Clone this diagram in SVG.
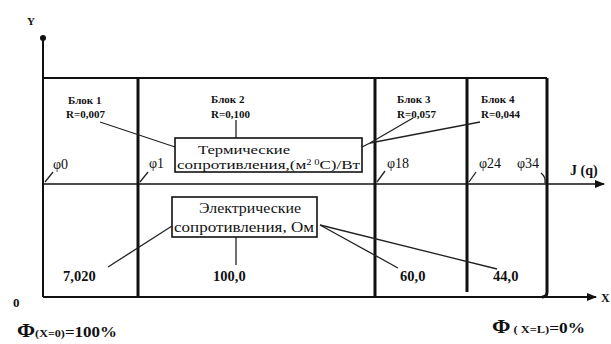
<svg xmlns="http://www.w3.org/2000/svg" width="611" height="344" viewBox="0 0 611 344">
<style>
text{font-family:"Liberation Serif","Times New Roman",serif;fill:#111}
.b{font-weight:bold;font-size:11px}
.p{font-size:15px}
.t{font-size:13px}
.ph{font-size:14px}
.v{font-weight:bold;font-size:14.5px}
.box{fill:#fff;stroke:#111;stroke-width:1.6}
.ld{stroke:#222;stroke-width:1.3;fill:none}
.ax{stroke:#111;stroke-width:2;fill:none}
.thick{stroke:#111;stroke-width:3;fill:none}
</style>
<defs>
<marker id="arr" markerWidth="10" markerHeight="8" refX="9" refY="4" orient="auto" markerUnits="userSpaceOnUse">
<path d="M0,0 L10,4 L0,8 Z" fill="#111"/>
</marker>
</defs>
<g id="connectors">
<line class="ax" x1="43" y1="297" x2="43" y2="40"/>
<circle cx="43" cy="38" r="3" fill="#111"/>
<line class="ax" x1="43" y1="78" x2="547" y2="78"/>
<line class="ax" x1="43" y1="297" x2="596" y2="297" marker-end="url(#arr)"/>
<line x1="43" y1="184" x2="604" y2="184" stroke="#111" stroke-width="1.6" marker-end="url(#arr)"/>
<line class="thick" x1="138" y1="78" x2="138" y2="297"/>
<line class="thick" x1="375" y1="78" x2="375" y2="297"/>
<line class="thick" x1="467" y1="78" x2="467" y2="292"/>
<path class="thick" d="M547,78 L547,292 Q547,297 542,297"/>
<line class="ld" x1="100" y1="122" x2="175" y2="147"/>
<line class="ld" x1="236" y1="120" x2="236" y2="138"/>
<line class="ld" x1="362" y1="147" x2="370" y2="143"/>
<line class="ld" x1="370" y1="143" x2="413" y2="118"/>
<line class="ld" x1="370" y1="143" x2="480" y2="122"/>
<line class="ld" x1="45" y1="182" x2="53" y2="172"/>
<line class="ld" x1="140" y1="182" x2="148" y2="172"/>
<line class="ld" x1="377" y1="182" x2="385" y2="171"/>
<line class="ld" x1="469" y1="182" x2="476" y2="172"/>
<path class="ld" d="M545,183 Q546,177 541,173"/>
<line class="ld" x1="172" y1="226" x2="108" y2="267"/>
<line class="ld" x1="236" y1="237" x2="236" y2="265"/>
<line class="ld" x1="320" y1="225" x2="398" y2="268"/>
<line class="ld" x1="320" y1="225" x2="497" y2="269"/>
</g>
<g id="axes-labels">
<text x="27" y="25" style="font-weight:bold;font-size:11px">Y</text>
<text x="13" y="307" style="font-weight:bold;font-size:13px">0</text>
<text x="570" y="175" style="font-weight:bold;font-size:14px">J (q)</text>
<text x="601" y="302" style="font-weight:bold;font-size:12px">X</text>
<text x="17" y="337" style="font-weight:bold;font-size:14px" textLength="100" lengthAdjust="spacingAndGlyphs"><tspan style="font-size:18px">Φ</tspan><tspan style="font-size:10px">(X=0)</tspan>=100%</text>
<text x="492" y="333" style="font-weight:bold;font-size:14px" textLength="93" lengthAdjust="spacingAndGlyphs"><tspan style="font-size:18px">Φ</tspan><tspan style="font-size:10px"> ( X=L)</tspan>=0%</text>
</g>
<g id="block1">
<text class="b" x="68" y="104">Блок 1</text>
<text class="b" x="66" y="118">R=0,007</text>
</g>
<g id="block2">
<text class="b" x="211" y="103">Блок 2</text>
<text class="b" x="211" y="118">R=0,100</text>
</g>
<g id="block3">
<text class="b" x="397" y="103">Блок 3</text>
<text class="b" x="397" y="118">R=0,057</text>
</g>
<g id="block4">
<text class="b" x="481" y="103">Блок 4</text>
<text class="b" x="481" y="118">R=0,044</text>
</g>
<g id="thermal">
<rect class="box" x="175" y="138" width="187" height="34"/>
<text class="t" x="198" y="154" textLength="92" lengthAdjust="spacingAndGlyphs">Термические</text>
<text class="t" x="177" y="169" textLength="183" lengthAdjust="spacingAndGlyphs">сопротивления,(м<tspan baseline-shift="super" font-size="8">2 0</tspan>C)/Вт</text>
</g>
<g id="electric">
<rect class="box" x="172" y="197" width="145" height="40"/>
<text class="p" x="199" y="213" textLength="102" lengthAdjust="spacingAndGlyphs">Электрические</text>
<text class="p" x="174" y="232" textLength="140" lengthAdjust="spacingAndGlyphs">сопротивления, Ом</text>
</g>
<g id="phi">
<text class="ph" x="53" y="169">φ0</text>
<text class="ph" x="149" y="168">φ1</text>
<text class="ph" x="387" y="168">φ18</text>
<text class="ph" x="479" y="168">φ24</text>
<text class="ph" x="517" y="168">φ34</text>
</g>
<g id="values">
<text class="v" x="63" y="281">7,020</text>
<text class="v" x="213" y="281">100,0</text>
<text class="v" x="400" y="281">60,0</text>
<text class="v" x="493" y="281">44,0</text>
</g>
</svg>
